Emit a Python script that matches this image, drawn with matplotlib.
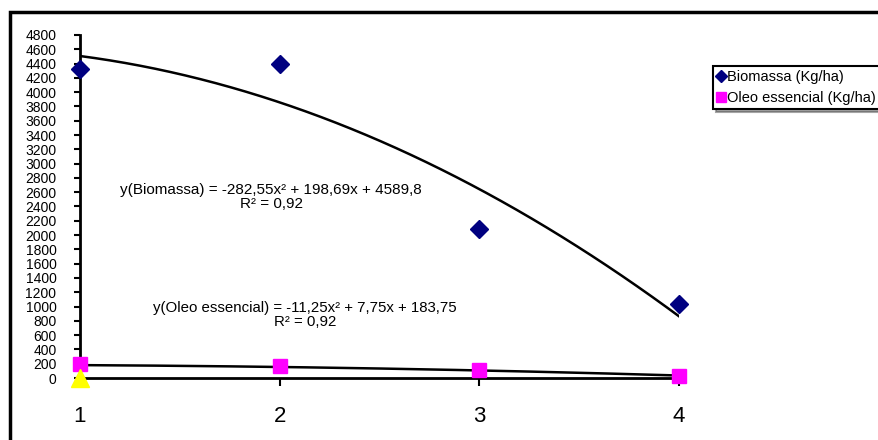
import numpy as np
import matplotlib
matplotlib.use("Agg")
import matplotlib.pyplot as plt
from matplotlib.patches import Rectangle

plt.rcParams['font.family'] = ['Liberation Sans', 'DejaVu Sans']

# data
epocas = [1, 2, 3, 4]
biomassa = [4330, 4390, 2090, 1040]
oleo = [195, 170, 110, 30]
teor_x = [1]
teor = [0]

# trendline coefficients (a*x^2 + b*x + c) as printed on the chart
coef_biomassa = [-282.55, 198.69, 4589.8]
coef_oleo = [-11.25, 7.75, 183.75]

eq_biomassa = "y(Biomassa) = -282,55x² + 198,69x + 4589,8\nR² = 0,92"
eq_oleo = "y(Oleo essencial) = -11,25x² + 7,75x + 183,75\nR² = 0,92"

W, H = 879, 440
fig = plt.figure(figsize=(W / 100, H / 100), dpi=100)
ax = fig.add_axes([80 / W, 1 - 378 / H, 599 / W, 343 / H])

xs = np.linspace(1, 4, 200)
ax.plot(xs, np.polyval(coef_biomassa, xs), color="black", lw=1.8, zorder=2)
ax.plot(xs, np.polyval(coef_oleo, xs), color="black", lw=1.8, zorder=2)

ax.plot(epocas, biomassa, linestyle="none", marker="D", markersize=9,
        color="#000080", label="Biomassa (Kg/ha)", clip_on=False, zorder=3)
ax.plot(teor_x, teor, linestyle="none", marker="^", markersize=13,
        color="#ffff00", label="_nolegend_", clip_on=False, zorder=4.5)
ax.plot(epocas, oleo, linestyle="none", marker="s", markersize=10,
        color="#ff00ff", label="Oleo essencial (Kg/ha)", clip_on=False, zorder=4)

ax.set_xlim(1, 4)
ax.set_ylim(0, 4800)
ax.set_xticks(epocas)
ax.set_yticks(np.arange(0, 4801, 200))

for s in ["top", "right"]:
    ax.spines[s].set_visible(False)
ax.spines["left"].set_linewidth(2)
ax.spines["bottom"].set_linewidth(2)

ax.tick_params(axis="y", direction="out", length=4, width=1.5, labelsize=10, pad=13)
ax.tick_params(axis="x", direction="out", length=6, width=1.5, labelsize=16, pad=14)

ax.text(1.957, 2530, eq_biomassa, ha="center", va="center", fontsize=11,
        linespacing=0.95, multialignment="center")
ax.text(2.127, 880, eq_oleo, ha="center", va="center", fontsize=10.8,
        linespacing=0.95, multialignment="center")

leg = fig.legend(loc="upper left", bbox_to_anchor=(713 / W, 1 - 66 / H),
                 borderaxespad=0, fontsize=10.5, frameon=True, fancybox=False,
                 shadow=True, handlelength=0.5, handletextpad=0.15,
                 borderpad=0.3, labelspacing=0.45, markerscale=0.7)
leg.get_frame().set_edgecolor("black")
leg.get_frame().set_linewidth(1.5)

fig.patches.append(Rectangle((10 / W, -0.1), 1.2, (H - 12.5) / H + 0.1,
                             transform=fig.transFigure, fill=False,
                             edgecolor="black", lw=2.5))

fig.savefig("out.png", dpi=100)
